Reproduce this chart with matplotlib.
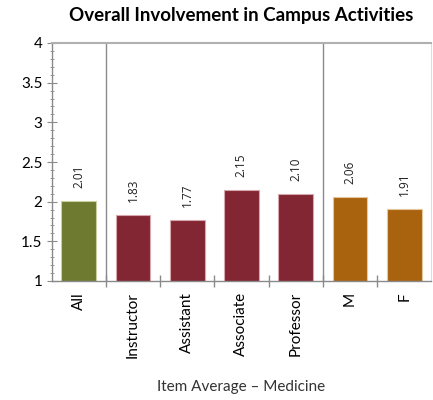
import matplotlib.pyplot as plt
from matplotlib.ticker import MultipleLocator

plt.rcParams['font.family'] = ['Lato', 'DejaVu Sans']

categories = ['All', 'Instructor', 'Assistant', 'Associate', 'Professor', 'M', 'F']
values = [2.01, 1.83, 1.77, 2.15, 2.10, 2.06, 1.91]
colors = ['#6e7a30', '#822633', '#822633', '#822633', '#822633', '#a9630f', '#a9630f']
edges = ['#c9cfa0', '#d6a7ad', '#d6a7ad', '#d6a7ad', '#d6a7ad', '#e6c79a', '#e6c79a']

fig = plt.figure(figsize=(4.33, 4.0), dpi=100)
ax = fig.add_axes([0.119, 0.2975, 0.877, 0.595])

x = range(len(categories))
bars = ax.bar(x, values, width=0.64, bottom=0, color=colors, edgecolor=edges, linewidth=0.8, zorder=2)

# value labels above each bar
for xi, v in zip(x, values):
    ax.text(xi, v + 0.16, f'{v:.2f}', rotation=90, ha='center', va='bottom',
            fontsize=8.5, color='#222222', family=['Open Sans', 'DejaVu Sans'])

# group separators
for sx in (0.5, 4.5):
    ax.axvline(sx, color='#8a8a8a', linewidth=1.0, zorder=1)

ax.set_xlim(-0.5, 6.5)
ax.set_ylim(1, 4)
ax.yaxis.set_minor_locator(MultipleLocator(0.1))
ax.set_yticks([1, 1.5, 2, 2.5, 3, 3.5, 4])
ax.set_yticklabels(['1', '1.5', '2', '2.5', '3', '3.5', '4'])

ax.set_xticks(list(x))
ax.set_xticklabels(categories, rotation=90, fontsize=11)
ax.set_xticks([i + 0.5 for i in range(6)], minor=True)
ax.tick_params(axis='x', which='major', length=0, pad=8)
ax.tick_params(axis='x', which='minor', length=8, direction='inout', color='#8a8a8a', width=1)
ax.tick_params(axis='y', which='major', length=7, direction='inout', color='#8a8a8a', labelsize=11, pad=3)
ax.tick_params(axis='y', which='minor', length=3, direction='inout', color='#8a8a8a')

for side in ('left', 'bottom', 'top'):
    ax.spines[side].set_color('#8a8a8a')
    ax.spines[side].set_linewidth(1.0)
ax.spines['top'].set_linewidth(1.5)
ax.spines['top'].set_color('#b0b0b0')
ax.spines['right'].set_color('#dddddd')
ax.spines['right'].set_linewidth(0.8)

ax.set_title('Overall Involvement in Campus Activities', fontsize=13.5, fontweight='bold', pad=16)
ax.set_xlabel('Item Average \u2013 Medicine', fontsize=11, labelpad=16, color='#333333')

fig.savefig('out.png', dpi=100)
